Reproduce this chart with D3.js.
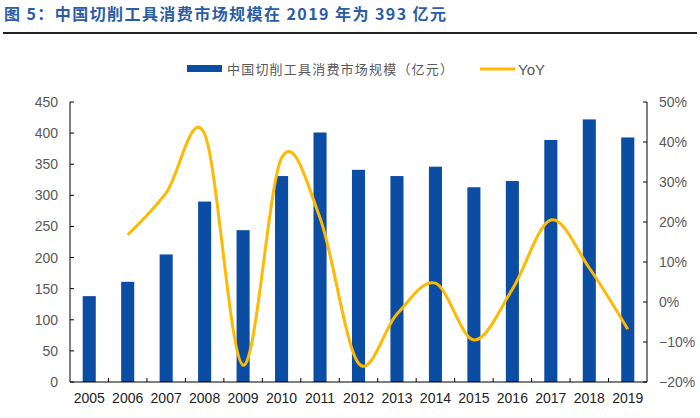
<!DOCTYPE html>
<html><head><meta charset="utf-8">
<script src="https://cdn.jsdelivr.net/npm/d3@7"></script>
<style>body{margin:0;background:#fff}svg{display:block}</style>
</head><body>
<svg id="c" width="700" height="418"></svg>
<script>
const years = ["2005","2006","2007","2008","2009","2010","2011","2012","2013","2014","2015","2016","2017","2018","2019"];
const marketSize = [138,161,205,290,244,331,401,341,331,346,313,323,389,422,393];
const yoy = [null,0.168,0.273,0.42,-0.158,0.36,0.21,-0.153,-0.03,0.047,-0.095,0.032,0.205,0.085,-0.068];
const leftTicks = [0,50,100,150,200,250,300,350,400,450];
const rightTicks = [-0.2,-0.1,0,0.1,0.2,0.3,0.4,0.5];
const title = "图 5：中国切削工具消费市场规模在 2019 年为 393 亿元";
const legendBar = "中国切削工具消费市场规模（亿元）";
const legendLine = "YoY";

const svg = d3.select("#c");
const L = 70, R = 647, T = 102, B = 382;
const x = d3.scaleBand().domain(years).range([L, R]).paddingInner(0.66).paddingOuter(0.33);
const xb = d3.scaleBand().domain(years).range([L, R]);
const y = d3.scaleLinear().domain([0,450]).range([B, T]);
const y2 = d3.scaleLinear().domain([-0.2,0.5]).range([B, T]);
const gray = "#595959", font = "'Liberation Sans', Arial, sans-serif";

const tt = svg.append("text").attr("x",4).attr("y",20).attr("fill","#2B5DA6")
  .attr("font-family","'Noto Sans CJK SC', 'Liberation Sans', sans-serif").attr("font-weight","bold").attr("font-size",16)
  .text(title);
const n = title.length;
const w0 = tt.node().getComputedTextLength();
tt.attr("letter-spacing", Math.max(0,(442 - w0)/(n-1)));
svg.append("line").attr("x1",3).attr("x2",697).attr("y1",33).attr("y2",33).attr("stroke","#222").attr("stroke-width",2);

// legend
svg.append("rect").attr("x",187).attr("y",65).attr("width",35).attr("height",7).attr("fill","#0B4DA2");
svg.append("text").attr("x",227).attr("y",74).attr("fill",gray).attr("font-size",13)
  .attr("font-family","'Noto Sans CJK SC', sans-serif").attr("letter-spacing",1.2).text(legendBar);
svg.append("line").attr("x1",480).attr("x2",515).attr("y1",69).attr("y2",69).attr("stroke","#FFB900").attr("stroke-width",3);
svg.append("text").attr("x",518).attr("y",75).attr("fill",gray).attr("font-size",15).attr("font-family",font).text(legendLine);

// bars
svg.append("g").selectAll("rect").data(years).join("rect")
  .attr("x", d => x(d)).attr("width", x.bandwidth())
  .attr("y", (d,i) => y(marketSize[i])).attr("height", (d,i) => B - y(marketSize[i]))
  .attr("fill","#0B4DA2");

// line
const line = d3.line().defined(d => d[1] !== null)
  .x(d => xb(d[0]) + xb.bandwidth()/2).y(d => y2(d[1]))
  .curve(d3.curveCardinal.tension(0));
svg.append("path").datum(years.map((d,i)=>[d,yoy[i]]))
  .attr("d", line).attr("fill","none").attr("stroke","#FFB900").attr("stroke-width",3);

// axes
const ax = svg.append("g").attr("stroke","#000").attr("stroke-width",1);
ax.append("line").attr("x1",L).attr("x2",L).attr("y1",T).attr("y2",B);
ax.append("line").attr("x1",R).attr("x2",R).attr("y1",T).attr("y2",B);
ax.append("line").attr("x1",L).attr("x2",R).attr("y1",B).attr("y2",B);
leftTicks.forEach(t => ax.append("line").attr("x1",L).attr("x2",L+4).attr("y1",y(t)).attr("y2",y(t)));
rightTicks.forEach(t => ax.append("line").attr("x1",R-4).attr("x2",R).attr("y1",y2(t)).attr("y2",y2(t)));
years.slice(1).forEach(d => ax.append("line").attr("x1",xb(d)).attr("x2",xb(d)).attr("y1",B).attr("y2",B-4));

svg.append("g").selectAll("text").data(leftTicks).join("text")
  .attr("x",58).attr("y",d=>y(d)+5).attr("text-anchor","end").attr("fill",gray)
  .attr("font-family",font).attr("font-size",14).text(d=>d);
svg.append("g").selectAll("text").data(rightTicks).join("text")
  .attr("x",659).attr("y",d=>y2(d)+5).attr("fill",gray)
  .attr("font-family",font).attr("font-size",14).text(d=>d3.format(".0%")(d));
svg.append("g").selectAll("text").data(years).join("text")
  .attr("x",d=>xb(d)+xb.bandwidth()/2).attr("y",403).attr("text-anchor","middle").attr("fill","#222")
  .attr("font-family",font).attr("font-size",14).text(d=>d);
</script>
</body></html>
